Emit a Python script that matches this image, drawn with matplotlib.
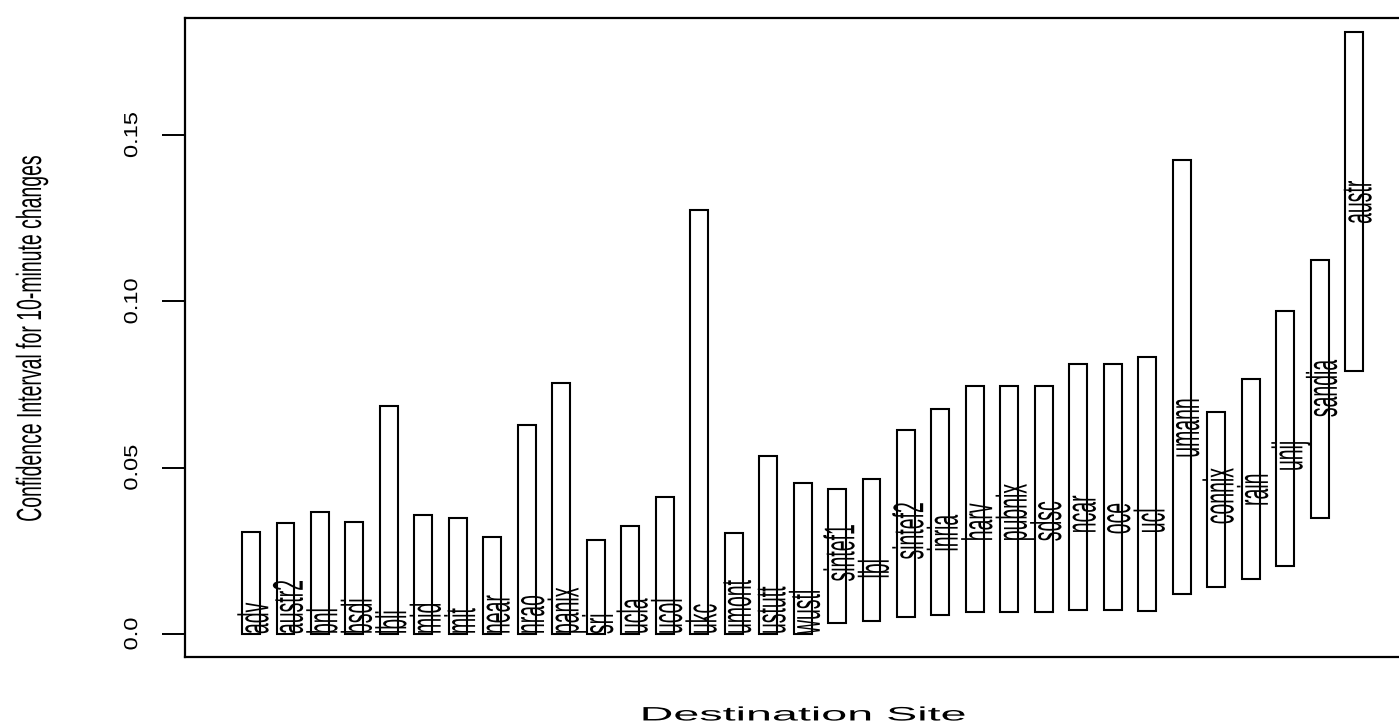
import matplotlib
matplotlib.use('Agg')
import matplotlib.pyplot as plt
from matplotlib.patches import Rectangle
from matplotlib.patheffects import AbstractPathEffect
from matplotlib.transforms import Affine2D

# sites, in plotting order
sites = ['adv', 'austr2', 'bnl', 'bsdi', 'lbli', 'mid', 'mit', 'near', 'nrao',
         'panix', 'sri', 'ucla', 'ucol', 'ukc', 'umont', 'ustutt', 'wustl',
         'sintef1', 'lbl', 'sintef2', 'inria', 'harv', 'pubnix', 'sdsc', 'ncar',
         'oce', 'ucl', 'umann', 'connix', 'rain', 'unij', 'sandia', 'austr']

# confidence interval bounds
ci_low = [0.0, 0.0, 0.0, 0.0, 0.0, 0.0, 0.0, 0.0, 0.0,
          0.0, 0.0, 0.0, 0.0, 0.0, 0.0, 0.0, 0.0,
          0.0034, 0.0038, 0.0052, 0.0057, 0.0067, 0.0067, 0.0067, 0.0071,
          0.0071, 0.0070, 0.0121, 0.0141, 0.0164, 0.0205, 0.0349, 0.0791]
ci_high = [0.0306, 0.0333, 0.0366, 0.0337, 0.0685, 0.0357, 0.0348, 0.0292, 0.0629,
           0.0755, 0.0282, 0.0324, 0.0413, 0.1276, 0.0305, 0.0535, 0.0455,
           0.0437, 0.0465, 0.0614, 0.0676, 0.0746, 0.0746, 0.0746, 0.0812,
           0.0812, 0.0832, 0.1425, 0.0667, 0.0766, 0.0970, 0.1125, 0.1810]

# point estimate = where each site name starts
est = [0.0, 0.0, 0.0, 0.0, 0.0, 0.0, 0.0, 0.0, 0.0,
       0.0, 0.0, 0.0, 0.0, 0.0, 0.0, 0.0, 0.0,
       0.0158, 0.0167, 0.0224, 0.0248, 0.0279, 0.0279, 0.0279, 0.0303,
       0.0300, 0.0303, 0.0530, 0.0330, 0.0385, 0.0490, 0.0652, 0.1233]

yticks = [0.0, 0.05, 0.10, 0.15]
ytick_labels = ['0.0', '0.05', '0.10', '0.15']


class Stretch(AbstractPathEffect):
    # widen / narrow glyphs horizontally, about the text origin or the ink centre
    def __init__(self, sx, about='origin'):
        super().__init__()
        self.sx = sx
        self.about = about

    def draw_path(self, renderer, gc, tpath, affine, rgbFace=None):
        if self.about == 'origin':
            cx = affine.transform((0, 0))[0]
        else:
            bb = tpath.get_extents(affine)
            cx = (bb.x0 + bb.x1) / 2
        t = affine + Affine2D().translate(-cx, 0).scale(self.sx, 1).translate(cx, 0)
        renderer.draw_path(gc, tpath, t, rgbFace)


plt.rcParams['font.family'] = ['Liberation Sans', 'DejaVu Sans']

fig = plt.figure(figsize=(13.99, 7.27), dpi=100)
ax = fig.add_axes([0.13224, 0.09629, 0.88492, 0.87895])

w = 0.52
for i, s in enumerate(sites):
    x = i + 1
    ax.add_patch(Rectangle((x - w / 2, ci_low[i]), w, ci_high[i] - ci_low[i],
                           fill=False, edgecolor='black', linewidth=1.5))
    ax.text(x + 0.5, est[i], s, rotation=90, rotation_mode='anchor',
            ha='left', va='baseline', fontsize=14,
            path_effects=[Stretch(2.2)])

ax.set_xlim(-0.915, 35.0)
ax.set_ylim(-0.0069, 0.1852)

ax.set_xticks([])
ax.set_yticks(yticks)
ax.set_yticklabels(ytick_labels, fontsize=17)
for t in ax.get_yticklabels():
    t.set_rotation(90)
    t.set_rotation_mode('anchor')
    t.set_ha('center')
    t.set_va('baseline')
    t.set_path_effects([Stretch(0.8)])
ax.tick_params(axis='y', length=16.5, width=1.4, pad=18)

for side in ['top', 'left', 'bottom']:
    ax.spines[side].set_linewidth(1.6)
ax.spines['right'].set_visible(False)

ax.set_ylabel('Confidence Interval for 10-minute changes', fontsize=14,
              va='baseline', path_effects=[Stretch(1.8)])
ax.yaxis.set_label_coords(-0.1163, 0.5)
ax.set_xlabel('Destination Site', fontsize=14, va='center',
              path_effects=[Stretch(2.4, about='centre')])
ax.xaxis.set_label_coords(0.5, -0.0923)

fig.savefig('out.png', dpi=100)
